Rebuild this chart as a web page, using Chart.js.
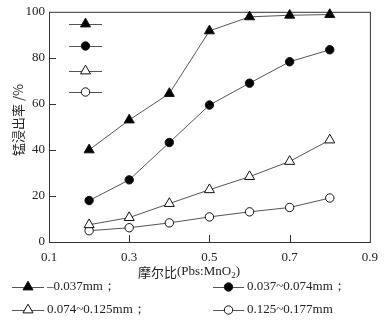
<!DOCTYPE html>
<html>
<head>
<meta charset="utf-8">
<script src="https://cdn.jsdelivr.net/npm/chart.js@4/dist/chart.umd.min.js"></script>
<style>
  html, body { margin: 0; padding: 0; background: #fff; }
</style>
</head>
<body>
<canvas id="leachChart" width="386" height="321"></canvas>
<script>
// molar ratio PbS:MnO2 on x, Mn leaching rate (%) on y
const ratios = [0.2, 0.3, 0.4, 0.5, 0.6, 0.7, 0.8];
const seriesNames = ['\u20130.037mm\uFF1B', '0.037~0.074mm\uFF1B', '0.074~0.125mm\uFF1B', '0.125~0.177mm'];
const fine = [40, 53, 64.5, 91.7, 97.8, 98.5, 98.8];
const mid = [18, 27, 43.2, 59.5, 69, 78.3, 83.5];
const coarse = [7.5, 10.6, 16.7, 22.7, 28.4, 35, 44.3];
const coarsest = [4.9, 6.2, 8.3, 10.9, 13.1, 15, 19.1];
const xTicks = [0.1, 0.3, 0.5, 0.7, 0.9];
const yTicks = [0, 20, 40, 60, 80, 100];

const styles = ['triangle', 'circle', 'triangle', 'circle'];
const fills = ['#000', '#000', '#fff', '#fff'];
const radii = [5.8, 4.2, 5.8, 4.2];
const serif = '"Liberation Serif", "DejaVu Serif", serif';
const cjk = '"Noto Sans CJK SC", sans-serif';

function toPoints(vals) {
    return vals.map((v, i) => ({ x: ratios[i], y: v }));
}

function marker(ctx, i, x, y) {
    ctx.save();
    ctx.fillStyle = fills[i];
    ctx.strokeStyle = '#111';
    ctx.lineWidth = 1;
    ctx.beginPath();
    if (styles[i] === 'circle') {
        ctx.arc(x, y, radii[i], 0, Math.PI * 2);
    } else {
        const r = radii[i];
        for (let k = 0; k < 3; k++) {
            const a = k * 2 * Math.PI / 3;
            const px = x + Math.sin(a) * r, py = y - Math.cos(a) * r;
            k ? ctx.lineTo(px, py) : ctx.moveTo(px, py);
        }
        ctx.closePath();
    }
    ctx.fill();
    ctx.stroke();
    ctx.restore();
}

function legendEntry(ctx, i, x0, x1, y) {
    ctx.strokeStyle = '#555';
    ctx.lineWidth = 1;
    ctx.beginPath();
    ctx.moveTo(x0, y + 0.5);
    ctx.lineTo(x1, y + 0.5);
    ctx.stroke();
    marker(ctx, i, (x0 + x1) / 2, y);
}

const frame = {
    id: 'frame',
    beforeDatasetsDraw(chart) {
        const { ctx, chartArea: a, scales: { x, y } } = chart;
        ctx.save();
        ctx.strokeStyle = '#333';
        ctx.lineWidth = 1;
        ctx.strokeRect(a.left + 0.5, a.top + 0.5, a.right - a.left, a.bottom - a.top);
        ctx.beginPath();
        xTicks.slice(1, -1).forEach(v => {
            const px = Math.round(x.getPixelForValue(v)) + 0.5;
            ctx.moveTo(px, a.bottom);
            ctx.lineTo(px, a.bottom - 7);
        });
        yTicks.slice(1, -1).forEach(v => {
            const py = Math.round(y.getPixelForValue(v)) + 0.5;
            ctx.moveTo(a.left, py);
            ctx.lineTo(a.left + 7, py);
        });
        ctx.stroke();
        ctx.restore();
    },
    afterDraw(chart) {
        const { ctx } = chart;
        ctx.save();
        ctx.fillStyle = '#222';

        // y title
        ctx.save();
        ctx.translate(18, 120);
        ctx.rotate(-Math.PI / 2);
        ctx.textAlign = 'center';
        ctx.textBaseline = 'middle';
        ctx.font = '13px ' + cjk;
        ctx.fillText('锰浸出率 /%', 0, 0);
        ctx.restore();

        // x title with subscript
        ctx.textBaseline = 'middle';
        ctx.textAlign = 'left';
        let tx = 138;
        const ty = 272;
        ctx.font = '13px ' + cjk;
        ctx.fillText('摩尔比', tx, ty);
        tx += ctx.measureText('摩尔比').width;
        ctx.font = '13px ' + serif;
        ctx.fillText('(Pbs:MnO', tx, ty);
        tx += ctx.measureText('(Pbs:MnO').width;
        ctx.font = '9px ' + serif;
        ctx.fillText('2', tx, ty + 4);
        tx += ctx.measureText('2').width;
        ctx.font = '13px ' + serif;
        ctx.fillText(')', tx, ty);

        // legend keys inside the plot (no text)
        [24, 46, 71, 92].forEach((ly, i) => legendEntry(ctx, i, 69, 102, ly));

        // bottom legend
        const rows = [287, 310];
        const cols = [[12, 44, 47], [213, 244, 247]];
        seriesNames.forEach((name, i) => {
            const c = cols[i % 2], r = rows[Math.floor(i / 2)];
            legendEntry(ctx, i, c[0], c[1], r);
            ctx.fillStyle = '#222';
            ctx.font = '13px ' + serif;
            ctx.textBaseline = 'middle';
            ctx.fillText(name, c[2], r);
        });
        ctx.restore();
    }
};

const ctx = document.getElementById('leachChart').getContext('2d');

new Chart(ctx, {
    type: 'line',
    data: {
        datasets: [fine, mid, coarse, coarsest].map((vals, i) => ({
            label: seriesNames[i],
            data: toPoints(vals),
            borderColor: '#555',
            borderWidth: 1,
            tension: 0,
            pointStyle: styles[i],
            pointRadius: radii[i],
            pointBackgroundColor: fills[i],
            pointBorderColor: '#111',
            pointBorderWidth: 1,
            clip: false
        }))
    },
    options: {
        responsive: false,
        animation: false,
        devicePixelRatio: 1,
        layout: { padding: { top: 10, right: 10, left: 0, bottom: 0 } },
        plugins: {
            legend: { display: false },
            tooltip: { enabled: false }
        },
        scales: {
            x: {
                type: 'linear',
                min: 0.1,
                max: 0.9,
                afterBuildTicks: s => { s.ticks = xTicks.map(v => ({ value: v })); },
                afterFit: s => { s.height = 79; },
                grid: { display: false, drawTicks: false },
                border: { display: false },
                ticks: {
                    padding: 8,
                    color: '#222',
                    font: { family: serif, size: 13 },
                    maxRotation: 0,
                    callback: v => v.toFixed(1)
                }
            },
            y: {
                min: 0,
                max: 100,
                afterBuildTicks: s => { s.ticks = yTicks.map(v => ({ value: v })); },
                afterFit: s => { s.width = 49; },
                grid: { display: false, drawTicks: false },
                border: { display: false },
                ticks: {
                    padding: 4,
                    color: '#222',
                    font: { family: serif, size: 13 }
                }
            }
        }
    },
    plugins: [frame]
});
</script>
</body>
</html>
